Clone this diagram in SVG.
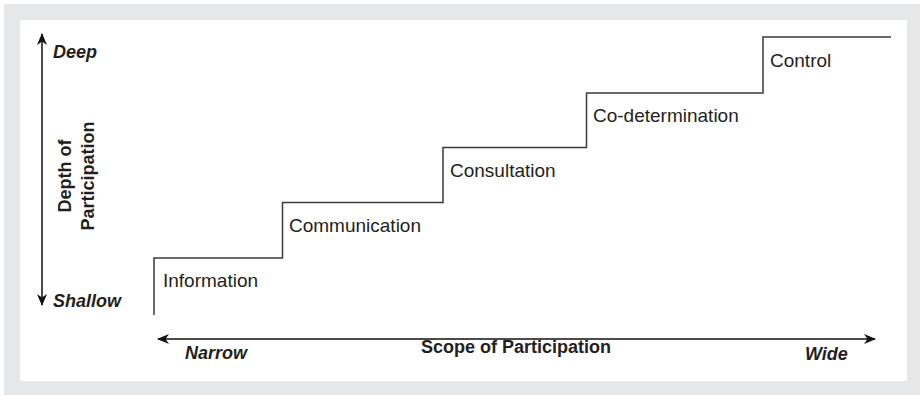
<svg xmlns="http://www.w3.org/2000/svg" width="920" height="395" viewBox="0 0 920 395">
<style>
.lbl{font-family:"Liberation Sans",Arial,sans-serif;font-size:19px;fill:#231f20}
.ax{font-family:"Liberation Sans",Arial,sans-serif;font-size:18px;font-weight:bold;fill:#231f20}
.end{font-family:"Liberation Sans",Arial,sans-serif;font-size:18px;font-weight:bold;font-style:italic;fill:#231f20}
.step{fill:none;stroke:#3a3a3a;stroke-width:1.5}
.arr{fill:none;stroke:#111;stroke-width:1.5}
</style>
<defs>
<marker id="ah" viewBox="0 0 12 10" refX="11" refY="5" markerWidth="12" markerHeight="10" markerUnits="userSpaceOnUse" orient="auto-start-reverse">
<path d="M0,0 L12,5 L0,10 L3.5,5 Z" fill="#111"/>
</marker>
</defs>
<rect x="4" y="4" width="916" height="391" fill="#e6e7e8"/>
<rect x="20" y="20" width="887" height="361" fill="#ffffff"/>
<g id="connectors">
<line class="arr" x1="42" y1="305" x2="42" y2="34" marker-start="url(#ah)" marker-end="url(#ah)"/>
<line class="arr" x1="158" y1="339" x2="875" y2="339" marker-start="url(#ah)" marker-end="url(#ah)"/>
<path id="staircase" class="step" d="M154,315 V258 H282.5 V202.5 H443 V147.5 H586.5 V93 H763 V37 H891"/>
</g>
<g id="axis-depth">
<text class="end" x="53" y="58">Deep</text>
<text class="end" x="53" y="307">Shallow</text>
<text class="ax" transform="translate(71,176) rotate(-90)" text-anchor="middle">Depth of</text>
<text class="ax" transform="translate(94,176) rotate(-90)" text-anchor="middle">Participation</text>
</g>
<g id="axis-scope">
<text class="end" x="185" y="359">Narrow</text>
<text class="ax" x="516" y="353" text-anchor="middle">Scope of Participation</text>
<text class="end" x="805" y="360">Wide</text>
</g>
<g id="information"><text class="lbl" x="163" y="287">Information</text></g>
<g id="communication"><text class="lbl" x="289" y="232">Communication</text></g>
<g id="consultation"><text class="lbl" x="450" y="177">Consultation</text></g>
<g id="co-determination"><text class="lbl" x="593" y="122">Co-determination</text></g>
<g id="control"><text class="lbl" x="770" y="67">Control</text></g>
</svg>
